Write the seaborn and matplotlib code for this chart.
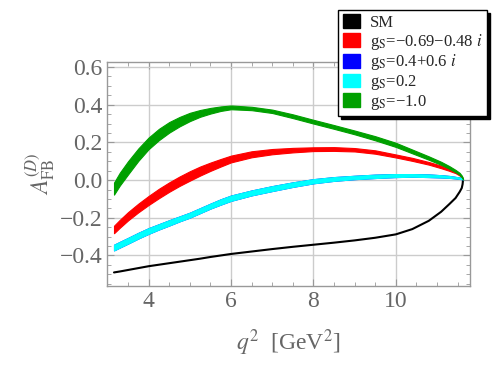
import numpy as np
import matplotlib
matplotlib.use("Agg")
import matplotlib.pyplot as plt
import seaborn as sns
from matplotlib.patches import Patch
from matplotlib.ticker import MultipleLocator

# q^2 sample points (GeV^2)
q2 = [3.16, 3.3, 3.5, 3.75, 4.0, 4.25, 4.5, 4.75, 5.0, 5.25, 5.5, 5.75, 6.0,
      6.5, 7.0, 7.5, 8.0, 8.5, 9.0, 9.5, 10.0, 10.4, 10.8, 11.1, 11.3, 11.45,
      11.55, 11.6, 11.62, 11.63]

# SM line
sm = [-0.49, -0.485, -0.477, -0.467, -0.457, -0.449, -0.441, -0.433, -0.425,
      -0.417, -0.408, -0.4, -0.392, -0.379, -0.366, -0.354, -0.343, -0.332,
      -0.32, -0.306, -0.288, -0.26, -0.216, -0.168, -0.127, -0.095, -0.062,
      -0.042, -0.022, 0.0]

# bands: centre and half width
red_c = [-0.262, -0.232, -0.192, -0.148, -0.108, -0.071, -0.037, -0.006,
         0.022, 0.048, 0.071, 0.092, 0.112, 0.137, 0.151, 0.159, 0.164, 0.165,
         0.161, 0.149, 0.128, 0.11, 0.089, 0.07, 0.055, 0.042, 0.028, 0.017,
         0.01, 0.004]
red_w = [0.02, 0.021, 0.022, 0.023, 0.024, 0.025, 0.025, 0.025, 0.025, 0.024,
         0.022, 0.02, 0.018, 0.016, 0.014, 0.012, 0.01, 0.01, 0.009, 0.009,
         0.008, 0.008, 0.007, 0.007, 0.006, 0.005, 0.004, 0.003, 0.002, 0.001]

cyan_c = [-0.358, -0.343, -0.322, -0.295, -0.27, -0.248, -0.227, -0.206,
          -0.186, -0.162, -0.138, -0.116, -0.096, -0.068, -0.045, -0.024,
          -0.006, 0.006, 0.014, 0.02, 0.024, 0.025, 0.023, 0.02, 0.017, 0.013,
          0.01, 0.008, 0.006, 0.004]
cyan_w = [0.015, 0.015, 0.015, 0.015, 0.015, 0.014, 0.014, 0.013, 0.013, 0.013,
          0.013, 0.014, 0.014, 0.013, 0.013, 0.012, 0.011, 0.01, 0.009, 0.009,
          0.008, 0.007, 0.007, 0.006, 0.005, 0.004, 0.004, 0.003, 0.002, 0.001]

# blue band lies under the cyan one
blue_c = cyan_c
blue_w = cyan_w

green_c = [-0.045, 0.005, 0.065, 0.135, 0.195, 0.242, 0.28, 0.31, 0.335,
           0.354, 0.368, 0.379, 0.386, 0.38, 0.365, 0.339, 0.31, 0.282,
           0.253, 0.222, 0.187, 0.152, 0.117, 0.089, 0.067, 0.048, 0.033,
           0.02, 0.012, 0.004]
green_w = [0.032, 0.034, 0.035, 0.033, 0.031, 0.03, 0.028, 0.025, 0.022, 0.018,
           0.015, 0.012, 0.01, 0.009, 0.009, 0.01, 0.01, 0.01, 0.01, 0.011,
           0.011, 0.01, 0.009, 0.008, 0.007, 0.006, 0.005, 0.004, 0.003, 0.001]

labels = ["SM", "g$_{\\rm S}$=\u22120.69\u22120.48 $i$", "g$_{\\rm S}$=0.4+0.6 $i$",
          "g$_{\\rm S}$=0.2", "g$_{\\rm S}$=\u22121.0"]
colors = ["black", "#ff0000", "#0000ff", "#00ffff", "#00a000"]

sns.set_style("ticks")
plt.rcParams["font.family"] = ["Liberation Serif", "DejaVu Serif"]
plt.rcParams["mathtext.fontset"] = "stix"
plt.rcParams["axes.unicode_minus"] = True

fig = plt.figure(figsize=(5, 3.67), dpi=100)
ax = fig.add_axes([0.214, 0.2207, 0.726, 0.610])

bands = [(red_c, red_w, colors[1]), (blue_c, blue_w, colors[2]),
         (cyan_c, cyan_w, colors[3]), (green_c, green_w, colors[4])]

sns.lineplot(x=q2, y=sm, color=colors[0], lw=1.5, ax=ax, zorder=3)
for c, w, col in bands:
    c = np.array(c)
    w = np.array(w)
    ax.fill_between(q2, c - w, c + w, color=col, lw=0.8, edgecolor=col,
                    zorder=3)

ax.set_xlim(2.99, 11.8)
ax.set_ylim(-0.562, 0.626)
ax.xaxis.set_major_locator(MultipleLocator(2))
ax.xaxis.set_minor_locator(MultipleLocator(0.5))
ax.yaxis.set_major_locator(MultipleLocator(0.2))
ax.yaxis.set_minor_locator(MultipleLocator(0.05))

ax.grid(True, which="major", color="#cccccc", lw=1, zorder=0)
for s in ax.spines.values():
    s.set_color("#999999")
    s.set_linewidth(1)
ax.tick_params(which="both", direction="in", top=True, right=True,
               color="#999999", labelcolor="#666666", labelsize=17)
ax.tick_params(which="major", length=5)
ax.tick_params(which="minor", length=3)

ax.set_xlabel("$q^2$  [GeV$^2$]", fontsize=17, color="#666666", labelpad=11)
ax.set_ylabel("$A_{\\rm FB}^{(D)}$", fontsize=17, color="#666666", labelpad=2)

handles = [Patch(facecolor=c, edgecolor=c) for c in colors]
leg = fig.legend(handles, labels, loc="upper right",
                 bbox_to_anchor=(0.974, 0.973), bbox_transform=fig.transFigure,
                 fontsize=12, frameon=True, fancybox=False,
                 shadow={"color": "black", "alpha": 1},
                 handlelength=1.05, handleheight=0.9, handletextpad=0.6,
                 labelspacing=0.05, borderpad=0.25, borderaxespad=0)
leg.get_frame().set_edgecolor("black")
leg.get_frame().set_linewidth(1)
leg.get_frame().set_alpha(1)

fig.savefig("out.png", dpi=100)
